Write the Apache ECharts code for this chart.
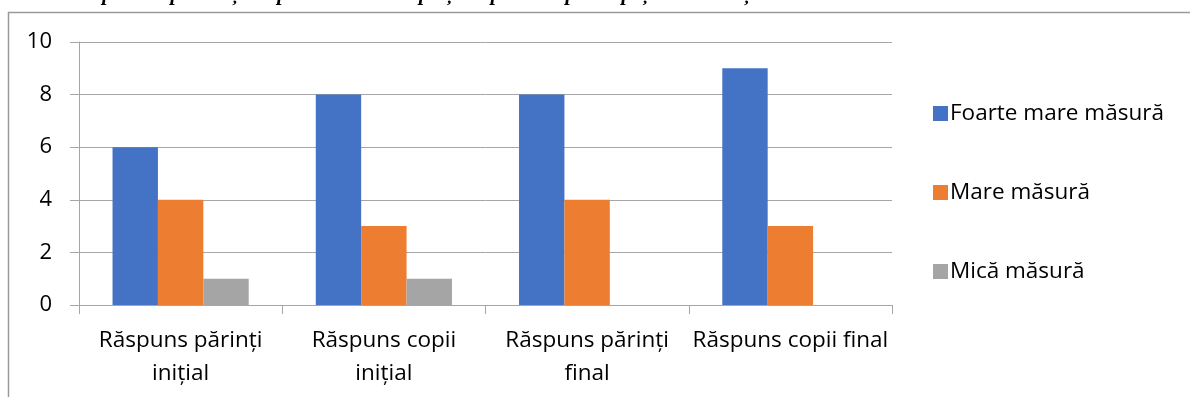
<!DOCTYPE html>
<html>
<head>
<meta charset="utf-8">
<script src="https://cdn.jsdelivr.net/npm/echarts@6/dist/echarts.min.js"></script>
<style>
  html, body { margin: 0; padding: 0; background: #fff; }
  #chart { width: 1190px; height: 397px; }
</style>
</head>
<body>
<div id="chart"></div>
<script>
// Survey answers per response group
const categories = ['Răspuns părinți\ninițial', 'Răspuns copii\ninițial', 'Răspuns părinți\nfinal', 'Răspuns copii final'];
const seriesNames = ['Foarte mare măsură', 'Mare măsură', 'Mică măsură'];
const foarteMare = [6, 8, 8, 9];
const mare = [4, 3, 4, 3];
const mica = [1, 1, 0, 0];
const yTicks = { min: 0, max: 10, interval: 2 };
const headingText = 'Cu câtă plăcere petreceți timpul alături de copii și vă place să participați la activități culturale.';

const colors = ['#4472C4', '#ED7D31', '#A5A5A5'];
const font = '"Open Sans", "Noto Sans", sans-serif';

const chart = echarts.init(document.getElementById('chart'), null, { renderer: 'canvas' });

chart.setOption({
  animation: false,
  color: colors,
  textStyle: { fontFamily: font },
  grid: { left: 79, right: 298, top: 42, bottom: 92, containLabel: false },
  legend: {
    orient: 'vertical',
    left: 928,
    top: 97,
    itemWidth: 15,
    itemHeight: 15,
    itemGap: 56,
    icon: 'rect',
    textStyle: { fontSize: 22.5, color: '#000', fontFamily: font, padding: [0, 0, 0, -3] },
    data: seriesNames
  },
  xAxis: {
    type: 'category',
    data: categories,
    axisLine: { lineStyle: { color: '#a6a6a6', width: 1 } },
    axisTick: { show: true, length: 9, lineStyle: { color: '#a6a6a6' } },
    axisLabel: { color: '#000', fontSize: 22.5, lineHeight: 33, margin: 19, interval: 0, fontFamily: font }
  },
  yAxis: {
    type: 'value',
    min: yTicks.min,
    max: yTicks.max,
    interval: yTicks.interval,
    axisLine: { show: true, lineStyle: { color: '#a6a6a6', width: 1 } },
    axisTick: { show: true, length: 9, lineStyle: { color: '#a6a6a6' } },
    axisLabel: { color: '#000', fontSize: 22, margin: 27, fontFamily: font },
    splitLine: { show: true, lineStyle: { color: '#a6a6a6', width: 1 } }
  },
  series: [
    { name: seriesNames[0], type: 'bar', data: foarteMare, barGap: '0%', barCategoryGap: '33%' },
    { name: seriesNames[1], type: 'bar', data: mare, barGap: '0%', barCategoryGap: '33%' },
    { name: seriesNames[2], type: 'bar', data: mica, barGap: '0%', barCategoryGap: '33%' }
  ],
  graphic: [
    // frame around the chart area
    { type: 'polyline', silent: true, shape: { points: [[8.5, 397], [8.5, 12.5], [1190, 12.5]] },
      style: { stroke: '#9a9a9a', lineWidth: 1.5, fill: null } },
    // heading line above the chart, mostly outside the page
    { type: 'text', left: 30, top: -16, silent: true,
      style: { text: headingText, font: 'italic bold 21px "Liberation Serif", serif', fill: '#000' } }
  ]
});
</script>
</body>
</html>
